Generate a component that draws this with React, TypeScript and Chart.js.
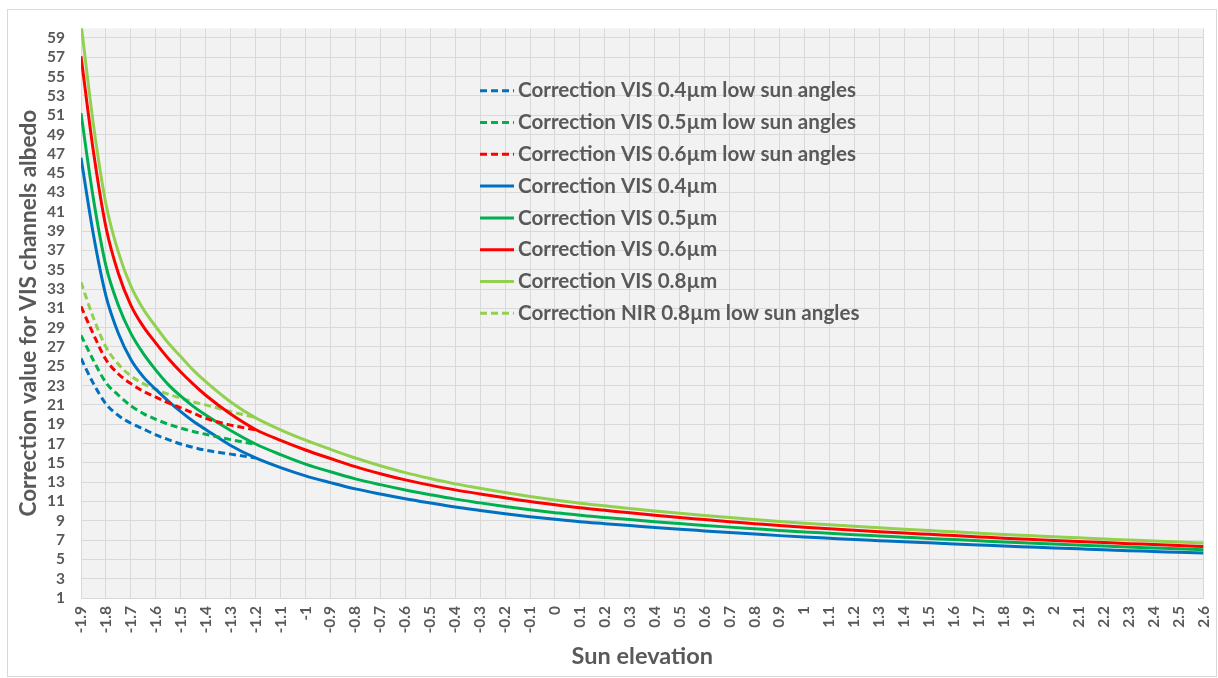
import React, { useEffect, useRef } from "react";
import { Chart, registerables } from "chart.js";

Chart.register(...registerables);

// ---------- data ----------
const xTicks = [
  -1.9, -1.8, -1.7, -1.6, -1.5, -1.4, -1.3, -1.2, -1.1, -1, -0.9, -0.8, -0.7, -0.6, -0.5, -0.4,
  -0.3, -0.2, -0.1, 0, 0.1, 0.2, 0.3, 0.4, 0.5, 0.6, 0.7, 0.8, 0.9, 1, 1.1, 1.2, 1.3, 1.4, 1.5,
  1.6, 1.7, 1.8, 1.9, 2, 2.1, 2.2, 2.3, 2.4, 2.5, 2.6,
];
const yTicks = [
  1, 3, 5, 7, 9, 11, 13, 15, 17, 19, 21, 23, 25, 27, 29, 31, 33, 35, 37, 39, 41, 43, 45, 47, 49,
  51, 53, 55, 57, 59,
];

const sunElevation = [
  -1.9, -1.85, -1.8, -1.75, -1.7, -1.65, -1.6, -1.55, -1.5, -1.45, -1.4, -1.3, -1.2, -1.1, -1,
  -0.9, -0.8, -0.7, -0.6, -0.5, -0.4, -0.3, -0.2, -0.1, 0, 0.1, 0.2, 0.3, 0.4, 0.5, 0.6, 0.7, 0.8,
  0.9, 1, 1.1, 1.2, 1.3, 1.4, 1.5, 1.6, 1.7, 1.8, 1.9, 2, 2.1, 2.2, 2.3, 2.4, 2.5, 2.6,
];
const lowSunElevation = [
  -1.9, -1.85, -1.8, -1.75, -1.7, -1.65, -1.6, -1.55, -1.5, -1.45, -1.4, -1.3, -1.2,
];

const vis04 = [
  46.6, 38.6, 32.3, 28.4, 25.7, 23.9, 22.6, 21.4, 20.3, 19.3, 18.45, 16.8, 15.5, 14.5, 13.65,
  12.95, 12.3, 11.77, 11.28, 10.84, 10.42, 10.07, 9.73, 9.42, 9.15, 8.9, 8.7, 8.5, 8.3, 8.12, 7.95,
  7.78, 7.62, 7.46, 7.32, 7.19, 7.06, 6.94, 6.82, 6.71, 6.6, 6.49, 6.38, 6.28, 6.18, 6.09, 6.0,
  5.9, 5.82, 5.73, 5.65,
];
const vis05 = [
  51.2, 42.3, 35.4, 31.3, 28.4, 26.3, 24.6, 23.1, 21.9, 20.85, 19.95, 18.35, 16.95, 15.85, 14.87,
  14.07, 13.34, 12.74, 12.19, 11.7, 11.24, 10.85, 10.48, 10.14, 9.84, 9.56, 9.34, 9.12, 8.9, 8.71,
  8.52, 8.34, 8.17, 8.0, 7.84, 7.7, 7.56, 7.43, 7.3, 7.17, 7.05, 6.93, 6.81, 6.7, 6.58, 6.48,
  6.38, 6.27, 6.18, 6.09, 6.0,
];
const vis06 = [
  57.1, 47.2, 39.4, 34.6, 31.3, 29.1, 27.4, 25.8, 24.4, 23.15, 22.0, 20.05, 18.45, 17.32, 16.33,
  15.45, 14.6, 13.87, 13.23, 12.69, 12.2, 11.78, 11.38, 10.99, 10.65, 10.34, 10.08, 9.82, 9.57,
  9.34, 9.12, 8.9, 8.7, 8.5, 8.32, 8.16, 8.01, 7.86, 7.72, 7.59, 7.46, 7.33, 7.2, 7.08, 6.96,
  6.85, 6.75, 6.63, 6.54, 6.43, 6.34,
];
const vis08 = [
  60.5, 50.0, 41.8, 36.8, 33.3, 30.9, 29.1, 27.4, 26.0, 24.6, 23.4, 21.3, 19.65, 18.42, 17.35,
  16.4, 15.5, 14.7, 13.98, 13.37, 12.82, 12.37, 11.93, 11.52, 11.15, 10.82, 10.55, 10.28, 10.02,
  9.78, 9.55, 9.33, 9.12, 8.92, 8.74, 8.58, 8.42, 8.27, 8.12, 7.98, 7.85, 7.71, 7.58, 7.46, 7.34,
  7.23, 7.12, 7.0, 6.9, 6.79, 6.69,
];

const low04 = [25.8, 23.2, 21.1, 19.9, 19.1, 18.5, 17.9, 17.4, 16.95, 16.6, 16.3, 15.9, 15.5];
const low05 = [28.2, 25.6, 23.3, 22.0, 20.9, 20.1, 19.5, 19.0, 18.6, 18.25, 17.95, 17.4, 16.9];
const low06 = [31.2, 28.3, 25.7, 24.2, 23.2, 22.4, 21.8, 21.2, 20.7, 20.15, 19.6, 18.9, 18.4];
const lowNir08 = [33.7, 30.0, 27.0, 25.2, 24.0, 23.2, 22.6, 22.1, 21.7, 21.3, 21.0, 20.3, 19.7];

const seriesLabels = [
  "Correction VIS 0.4µm low sun angles",
  "Correction VIS 0.5µm low sun angles",
  "Correction VIS 0.6µm low sun angles",
  "Correction VIS 0.4µm",
  "Correction VIS 0.5µm",
  "Correction VIS 0.6µm",
  "Correction VIS 0.8µm",
  "Correction NIR 0.8µm low sun angles",
];

const BLUE = "#0070C0";
const GREEN = "#00B050";
const RED = "#FF0000";
const LIGHT_GREEN = "#92D050";
const TEXT = "#595959";
const GRID = "#d9d9d9";
const FONT = "Lato, 'Open Sans', sans-serif";
const DASH = [7, 4];

const pts = (xs: number[], ys: number[]) => xs.map((x, i) => ({ x, y: ys[i] }));

const fmt = (v: number) => String(Number(v.toFixed(1)));

const plotBg = {
  id: "plotBg",
  beforeDraw(chart: any) {
    const { ctx, chartArea } = chart;
    ctx.save();
    ctx.fillStyle = "#f2f2f2";
    ctx.fillRect(chartArea.left, chartArea.top, chartArea.right - chartArea.left, chartArea.bottom - chartArea.top);
    ctx.restore();
  },
};

const innerLegend = {
  id: "innerLegend",
  afterDatasetsDraw(chart: any) {
    const ctx = chart.ctx;
    const x0 = 472;
    const lineLen = 34;
    const top = 80.7;
    const gap = 31.8;
    ctx.save();
    chart.data.datasets.forEach((ds: any, i: number) => {
      const y = top + i * gap;
      ctx.strokeStyle = ds.borderColor;
      ctx.lineWidth = 3;
      ctx.setLineDash(ds.borderDash || []);
      ctx.beginPath();
      ctx.moveTo(x0, y);
      ctx.lineTo(x0 + lineLen, y);
      ctx.stroke();
      ctx.setLineDash([]);
      ctx.fillStyle = TEXT;
      ctx.font = `bold 20.6px ${FONT}`;
      ctx.textBaseline = "middle";
      ctx.textAlign = "left";
      ctx.fillText(ds.label, x0 + lineLen + 4, y);
    });
    ctx.restore();
  },
};

export default function App() {
  const ref = useRef<HTMLCanvasElement | null>(null);

  useEffect(() => {
    if (!ref.current) return;
    const line = (label: string, xs: number[], ys: number[], color: string, dashed: boolean) => ({
      label,
      data: pts(xs, ys),
      borderColor: color,
      backgroundColor: color,
      borderWidth: 3,
      borderDash: dashed ? DASH : [],
      pointRadius: 0,
      cubicInterpolationMode: "monotone" as const,
      fill: false,
    });
    const chart = new Chart(ref.current, {
      type: "line",
      data: {
        datasets: [
          line(seriesLabels[0], lowSunElevation, low04, BLUE, true),
          line(seriesLabels[1], lowSunElevation, low05, GREEN, true),
          line(seriesLabels[2], lowSunElevation, low06, RED, true),
          line(seriesLabels[3], sunElevation, vis04, BLUE, false),
          line(seriesLabels[4], sunElevation, vis05, GREEN, false),
          line(seriesLabels[5], sunElevation, vis06, RED, false),
          line(seriesLabels[6], sunElevation, vis08, LIGHT_GREEN, false),
          line(seriesLabels[7], lowSunElevation, lowNir08, LIGHT_GREEN, true),
        ],
      },
      options: {
        animation: false,
        responsive: false,
        maintainAspectRatio: false,
        layout: { padding: { top: 18.3, right: 12.5, left: 0, bottom: 0 } },
        plugins: {
          legend: { display: false },
          tooltip: { enabled: false },
        },
        scales: {
          x: {
            type: "linear",
            min: -1.9,
            max: 2.6,
            afterBuildTicks: (scale: any) => {
              scale.ticks = xTicks.map((v) => ({ value: v }));
            },
            afterFit: (scale: any) => {
              scale.height = 78;
              scale.paddingLeft = 0;
              scale.paddingRight = 0;
              scale.paddingTop = 0;
              scale.paddingBottom = 0;
            },
            ticks: {
              autoSkip: false,
              maxRotation: 90,
              minRotation: 90,
              padding: 8,
              color: TEXT,
              font: { family: FONT, size: 15.5, weight: "bold" },
              callback: (v: any) => fmt(Number(v)),
            },
            grid: { color: GRID, lineWidth: 1, drawTicks: false },
            border: { color: GRID, width: 1 },
            title: {
              display: true,
              text: "Sun elevation",
              color: TEXT,
              font: { family: FONT, size: 23.5, weight: "bold" },
              padding: { top: 0, bottom: 5 },
            },
          },
          y: {
            type: "linear",
            min: 1,
            max: 60,
            afterBuildTicks: (scale: any) => {
              scale.ticks = yTicks.map((v) => ({ value: v }));
            },
            afterFit: (scale: any) => {
              scale.width = 73;
              scale.paddingLeft = 0;
              scale.paddingRight = 0;
              scale.paddingTop = 0;
              scale.paddingBottom = 0;
            },
            ticks: {
              autoSkip: false,
              padding: 16,
              color: TEXT,
              font: { family: FONT, size: 15.5, weight: "bold" },
              callback: (v: any) => String(v),
            },
            grid: { color: GRID, lineWidth: 1, drawTicks: false },
            border: { color: GRID, width: 1 },
            title: {
              display: true,
              text: "Correction value for VIS channels albedo",
              color: TEXT,
              font: { family: FONT, size: 22.5, weight: "bold" },
              padding: { top: 7, bottom: 0 },
            },
          },
        },
      },
      plugins: [plotBg, innerLegend],
    });
    return () => chart.destroy();
  }, []);

  return (
    <div
      style={{
        position: "absolute",
        left: 7,
        top: 9,
        width: 1210,
        height: 668,
        border: "1px solid #d9d9d9",
        boxSizing: "border-box",
        background: "#ffffff",
      }}
    >
      <canvas ref={ref} width={1208} height={666} style={{ display: "block", width: 1208, height: 666 }} />
    </div>
  );
}
